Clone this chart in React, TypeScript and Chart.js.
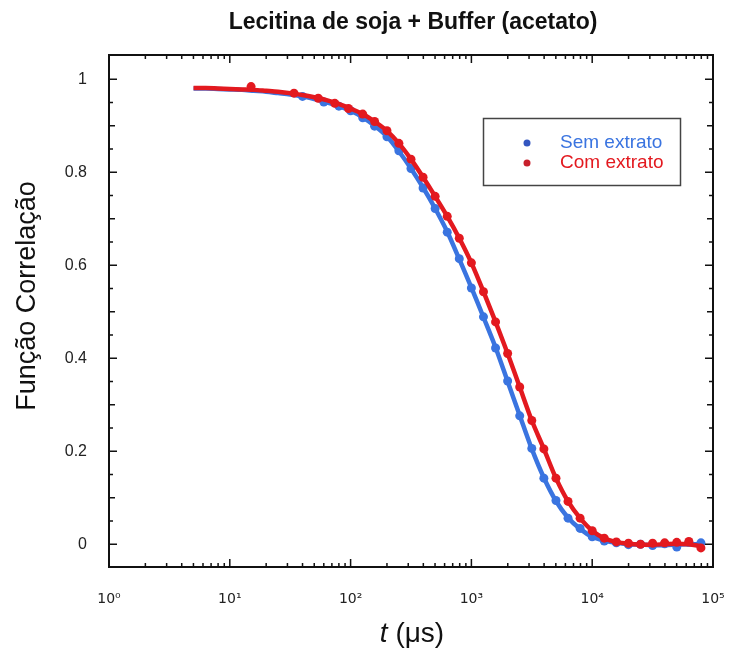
import React, { useEffect, useRef } from "react";
import { Chart, registerables } from "chart.js";

Chart.register(...registerables);

// ---------- text ----------
const chartTitle = "Lecitina de soja + Buffer (acetato)";
const yAxisTitle = "Função Correlação";
const xAxisTitleItalic = "t";
const xAxisTitleRest = " (μs)";
const seriesNames = ["Sem extrato", "Com extrato"];

// ---------- ticks ----------
const xTickValues = [1, 10, 100, 1000, 10000, 100000];
const xTickLabels = ["10⁰", "10¹", "10²", "10³", "10⁴", "10⁵"];
const yTickValues = [0, 0.2, 0.4, 0.6, 0.8, 1];
const yTickLabels = ["0", "0.2", "0.4", "0.6", "0.8", "1"];

// ---------- fitted curves ----------
const fitTimes = [
  5.01, 6.31, 7.94, 10, 12.6, 15.8, 20, 25.1, 31.6, 39.8, 50.1, 63.1, 79.4,
  100, 126, 158, 200, 251, 316, 398, 501, 631, 794, 1000, 1259, 1585, 1995,
  2512, 3162, 3981, 5012, 6310, 7943, 10000, 12590, 15850, 19950, 25120,
  31620, 39810, 50120, 63100, 79430,
];
const semFit = [
  0.98, 0.98, 0.979, 0.978, 0.977, 0.975, 0.973, 0.97, 0.967, 0.963, 0.957,
  0.95, 0.942, 0.932, 0.918, 0.9, 0.877, 0.845, 0.808, 0.767, 0.722, 0.672,
  0.613, 0.552, 0.488, 0.423, 0.35, 0.277, 0.205, 0.143, 0.093, 0.057, 0.033,
  0.016, 0.008, 0.003, 0.0, -0.001, -0.002, -0.002, -0.001, 0.0, 0.0,
];
const comFit = [
  0.981, 0.981, 0.98, 0.979, 0.978, 0.977, 0.975, 0.973, 0.97, 0.966, 0.961,
  0.955, 0.947, 0.937, 0.925, 0.909, 0.889, 0.862, 0.828, 0.789, 0.748, 0.705,
  0.658, 0.605, 0.543, 0.478, 0.41, 0.338, 0.266, 0.205, 0.142, 0.092, 0.056,
  0.029, 0.013, 0.005, 0.001, -0.001, -0.001, 0.0, 0.001, 0.0, -0.004,
];

// ---------- measured points ----------
const semTimes = [
  40, 60, 80, 100, 126, 158, 200, 251, 316, 398, 501, 631, 794, 1000, 1259,
  1585, 1995, 2512, 3162, 3981, 5012, 6310, 7943, 10000, 12590, 15850, 19950,
  25120, 31620, 39810, 50120, 63100, 79430,
];
const semValues = [
  0.963, 0.951, 0.942, 0.932, 0.917, 0.899, 0.876, 0.846, 0.808, 0.766, 0.722,
  0.671, 0.614, 0.551, 0.489, 0.422, 0.351, 0.276, 0.206, 0.142, 0.094, 0.056,
  0.034, 0.016, 0.007, 0.003, -0.001, 0.0, -0.003, 0.001, -0.006, 0.004, 0.003,
];
const comTimes = [
  15, 34, 54, 74, 96, 126, 158, 200, 251, 316, 398, 501, 631, 794, 1000, 1259,
  1585, 1995, 2512, 3162, 3981, 5012, 6310, 7943, 10000, 12590, 15850, 19950,
  25120, 31620, 39810, 50120, 63100, 79430,
];
const comValues = [
  0.984, 0.97, 0.959, 0.948, 0.937, 0.925, 0.909, 0.889, 0.862, 0.828, 0.789,
  0.748, 0.705, 0.658, 0.605, 0.543, 0.478, 0.41, 0.338, 0.266, 0.205, 0.142,
  0.092, 0.056, 0.029, 0.013, 0.005, 0.002, 0.0, 0.002, 0.003, 0.004, 0.006,
  -0.008,
];

const BLUE = "#3a74e0";
const RED = "#e3191f";
const FONT = '"Liberation Sans", Arial, Helvetica, sans-serif';

const toXY = (xs: number[], ys: number[]) => xs.map((x, i) => ({ x, y: ys[i] }));

const decorPlugin = {
  id: "decor",
  afterDatasetsDraw(chart: any) {
    const { ctx, chartArea } = chart;
    const xs = chart.scales.x;
    const ys = chart.scales.y;
    const { left, right, top, bottom } = chartArea;
    ctx.save();
    ctx.strokeStyle = "#111";
    ctx.lineWidth = 2;
    ctx.strokeRect(left, top, right - left, bottom - top);

    // x ticks (inward, bottom and top)
    ctx.lineWidth = 1.5;
    ctx.beginPath();
    for (let d = 0; d <= 5; d++) {
      for (let k = 1; k <= 9; k++) {
        const v = k * Math.pow(10, d);
        if (v > 100000) break;
        const px = xs.getPixelForValue(v);
        const len = k === 1 ? 8 : 4;
        ctx.moveTo(px, bottom);
        ctx.lineTo(px, bottom - len);
        ctx.moveTo(px, top);
        ctx.lineTo(px, top + len);
      }
    }
    // y ticks (inward, left and right)
    for (let i = 0; i <= 20; i++) {
      const v = i * 0.05;
      const py = ys.getPixelForValue(v);
      const len = i % 4 === 0 ? 8 : i % 2 === 0 ? 6 : 4;
      ctx.moveTo(left, py);
      ctx.lineTo(left + len, py);
      ctx.moveTo(right, py);
      ctx.lineTo(right - len, py);
    }
    ctx.stroke();

    // legend
    ctx.lineWidth = 1.5;
    ctx.strokeStyle = "#444";
    ctx.strokeRect(483.5, 118.5, 197, 67);
    const items = [
      { name: seriesNames[0], color: BLUE, dot: "#3356c0", y: 143 },
      { name: seriesNames[1], color: RED, dot: "#c8202c", y: 163 },
    ];
    ctx.font = `19px ${FONT}`;
    ctx.textBaseline = "middle";
    ctx.textAlign = "left";
    for (const it of items) {
      ctx.fillStyle = it.dot;
      ctx.beginPath();
      ctx.arc(527, it.y, 3.5, 0, Math.PI * 2);
      ctx.fill();
      ctx.fillStyle = it.color;
      ctx.fillText(it.name, 560, it.y);
    }
    ctx.restore();
  },
  afterDraw(chart: any) {
    const { ctx } = chart;
    ctx.save();
    ctx.fillStyle = "#111";
    // title
    ctx.font = `bold 23px ${FONT}`;
    ctx.textAlign = "center";
    ctx.textBaseline = "middle";
    ctx.fillText(chartTitle, 413, 23);
    // y title
    ctx.save();
    ctx.translate(28, 296);
    ctx.rotate(-Math.PI / 2);
    ctx.font = `27px ${FONT}`;
    ctx.fillText(yAxisTitle, 0, 0);
    ctx.restore();
    // x title
    ctx.textBaseline = "alphabetic";
    ctx.textAlign = "left";
    ctx.font = `italic 28px ${FONT}`;
    const w1 = ctx.measureText(xAxisTitleItalic).width;
    ctx.font = `28px ${FONT}`;
    const w2 = ctx.measureText(xAxisTitleRest).width;
    const x0 = 412 - (w1 + w2) / 2;
    ctx.font = `italic 28px ${FONT}`;
    ctx.fillText(xAxisTitleItalic, x0, 642);
    ctx.font = `28px ${FONT}`;
    ctx.fillText(xAxisTitleRest, x0 + w1, 642);
    ctx.restore();
  },
};

export default function App() {
  const ref = useRef<HTMLCanvasElement | null>(null);
  useEffect(() => {
    if (!ref.current) return;
    const chart = new Chart(ref.current, {
      type: "scatter",
      data: {
        datasets: [
          {
            label: seriesNames[1] + " (pontos)",
            data: toXY(comTimes, comValues),
            showLine: false,
            pointRadius: 4.5,
            pointBackgroundColor: RED,
            pointBorderWidth: 0,
            backgroundColor: RED,
            borderColor: RED,
          },
          {
            label: seriesNames[1],
            data: toXY(fitTimes, comFit),
            showLine: true,
            pointRadius: 0,
            borderColor: RED,
            borderWidth: 4.5,
            tension: 0.3,
          },
          {
            label: seriesNames[0] + " (pontos)",
            data: toXY(semTimes, semValues),
            showLine: false,
            pointRadius: 4.5,
            pointBackgroundColor: BLUE,
            pointBorderWidth: 0,
            backgroundColor: BLUE,
            borderColor: BLUE,
          },
          {
            label: seriesNames[0],
            data: toXY(fitTimes, semFit),
            showLine: true,
            pointRadius: 0,
            borderColor: BLUE,
            borderWidth: 4.5,
            tension: 0.3,
          },
        ],
      },
      options: {
        responsive: false,
        animation: false,
        devicePixelRatio: 1,
        layout: { padding: { left: 0, right: 16, top: 55, bottom: 0 } },
        plugins: {
          legend: { display: false },
          title: { display: false },
          tooltip: { enabled: false },
        },
        scales: {
          x: {
            type: "logarithmic",
            min: 1,
            max: 100000,
            grid: { display: false, drawTicks: false },
            border: { display: false },
            afterBuildTicks: (scale: any) => {
              scale.ticks = xTickValues.map((v) => ({ value: v }));
            },
            afterFit: (scale: any) => {
              scale.height = 90;
              scale.paddingLeft = 0;
              scale.paddingRight = 0;
            },
            ticks: {
              autoSkip: false,
              maxRotation: 0,
              padding: 24,
              color: "#222",
              font: { family: '"DejaVu Sans", sans-serif', size: 14 },
              callback: (value: any) => {
                const i = xTickValues.indexOf(Number(value));
                return i >= 0 ? xTickLabels[i] : "";
              },
            },
          },
          y: {
            type: "linear",
            min: -0.049,
            max: 1.052,
            grid: { display: false, drawTicks: false },
            border: { display: false },
            afterBuildTicks: (scale: any) => {
              scale.ticks = yTickValues.map((v) => ({ value: v }));
            },
            afterFit: (scale: any) => {
              scale.width = 109;
              scale.paddingTop = 0;
              scale.paddingBottom = 0;
            },
            ticks: {
              autoSkip: false,
              padding: 22,
              color: "#222",
              font: { family: FONT, size: 16 },
              callback: (value: any) => {
                const i = yTickValues.findIndex((v) => Math.abs(v - Number(value)) < 1e-9);
                return i >= 0 ? yTickLabels[i] : "";
              },
            },
          },
        },
      },
      plugins: [decorPlugin],
    } as any);
    return () => chart.destroy();
  }, []);
  return (
    <div style={{ position: "fixed", left: 0, top: 0, width: 729, height: 657, background: "#fff" }}>
      <canvas ref={ref} width={729} height={657} style={{ display: "block" }} />
    </div>
  );
}
